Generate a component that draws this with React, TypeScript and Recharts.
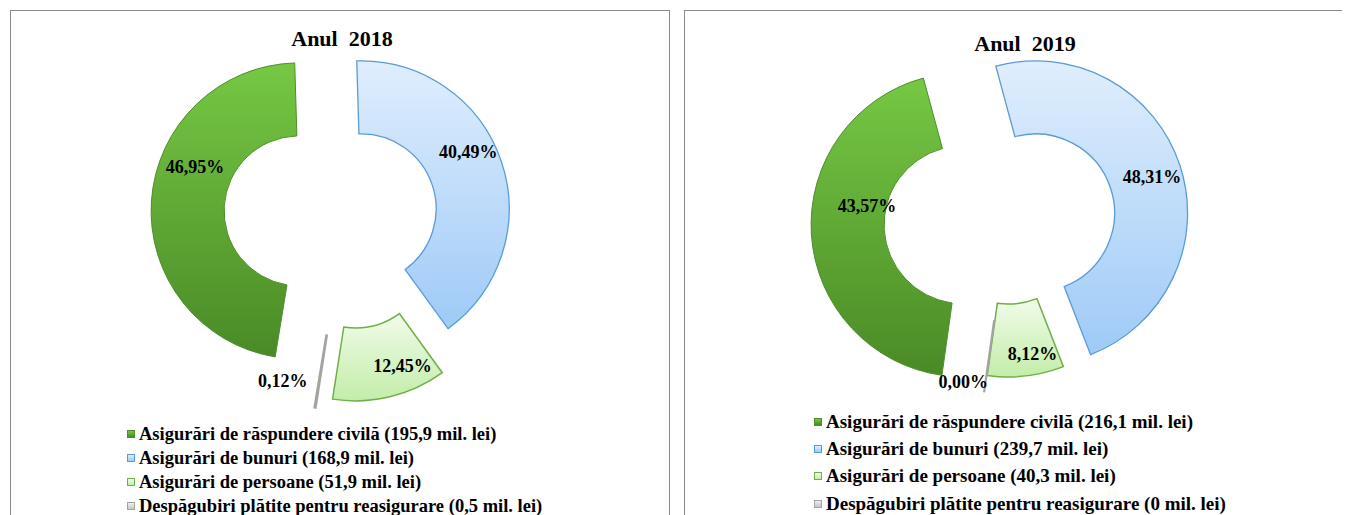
import { Cell, Legend, Pie, PieChart } from "recharts";

const categories = [
  "Asigurări de răspundere civilă",
  "Asigurări de bunuri",
  "Asigurări de persoane",
  "Despăgubiri plătite pentru reasigurare",
];

// mil. lei
const amounts2018 = [195.9, 168.9, 51.9, 0.5];
const amounts2019 = [216.1, 239.7, 40.3, 0];

// shares shown on the slices, %
const shares2018 = [46.95, 40.49, 12.45, 0.12];
const shares2019 = [43.57, 48.31, 8.12, 0];

const gradients = [
  ["#76c844", "#4a8a26"],
  ["#e0eefd", "#9ecaf7"],
  ["#f1fbea", "#c3eda8"],
  ["#eeeeee", "#c6c6c6"],
];
const strokes = ["#4e8e2a", "#5b9bd5", "#70ae47", "#a3a3a3"];
const strokeWidths = [1, 1.3, 1.5, 2.2];

const serif = '"Liberation Serif", "Times New Roman", serif';

const panels = [
  {
    id: "y2018",
    title: "Anul  2018",
    amounts: amounts2018,
    shares: shares2018,
    left: 2,
    width: 660,
    titleTop: 16.6,
    titleShift: 4,
    cx: 335,
    cy: 203,
    inner: 75,
    outer: 148,
    startClock: 189.3,
    explode: [47, 16, 40, 48],
    labelAt: [
      [19, 113],
      [-9, 121],
      [-9, 123],
      [5.4, 124],
    ],
    legendLeft: 116,
    legendTop: 411,
    legendRow: 24,
    legendFont: 18.5,
  },
  {
    id: "y2019",
    title: "Anul  2019",
    amounts: amounts2019,
    shares: shares2019,
    left: 676,
    width: 659,
    titleTop: 21.6,
    titleShift: 23,
    cx: 323,
    cy: 211,
    inner: 79,
    outer: 152,
    startClock: 188,
    explode: [45, 29, 3, 20],
    labelAt: [
      [14.6, 98],
      [1, 122],
      [-4, 131],
      [-1, 141],
    ],
    legendLeft: 129,
    legendTop: 397,
    legendRow: 27.3,
    legendFont: 19,
  },
];

type PanelCfg = (typeof panels)[number];

const toRad = (d: number) => (d * Math.PI) / 180;
const comma = (v: number) => String(v).replace(".", ",");

const midClocks = (p: PanelCfg) => {
  const total = p.shares.reduce((a, b) => a + b, 0);
  let acc = 0;
  return p.shares.map((v) => {
    const m = p.startClock + ((acc + v / 2) / total) * 360;
    acc += v;
    return m;
  });
};

const makeLabel = (p: PanelCfg, idx: number) => (props: any) => {
  if (props.index !== idx) return null;
  const { cx, cy, midAngle, innerRadius, outerRadius, value } = props;
  const [shift, r] = p.labelAt[idx];
  const clock = 90 - midAngle + shift;
  const x = cx + r * Math.sin(toRad(clock));
  const y = cy - r * Math.cos(toRad(clock));
  const small = idx === 3;
  const a = toRad(90 - midAngle);
  return (
    <g>
      {value === 0 && (
        <line
          x1={cx + innerRadius * Math.sin(a)}
          y1={cy - innerRadius * Math.cos(a)}
          x2={cx + outerRadius * Math.sin(a)}
          y2={cy - outerRadius * Math.cos(a)}
          stroke={strokes[3]}
          strokeWidth={2.2}
        />
      )}
      <text
        x={x}
        y={y}
        textAnchor={small ? "end" : "middle"}
        dominantBaseline="central"
        fontFamily={serif}
        fontWeight="bold"
        fontSize={18}
        fill="#000"
      >
        {Number(value).toFixed(2).replace(".", ",")}%
      </text>
    </g>
  );
};

const LegendList = ({ payload, p }: { payload?: any[]; p: PanelCfg }) => (
  <div style={{ fontFamily: serif, fontWeight: "bold", fontSize: p.legendFont, color: "#000" }}>
    {(payload ?? []).slice(0, 4).map((_, i) => (
      <div
        key={i}
        style={{ display: "flex", alignItems: "center", height: p.legendRow, whiteSpace: "nowrap" }}
      >
        <span
          style={{
            display: "inline-block",
            width: 6,
            height: 6,
            border: `1px solid ${strokes[i]}`,
            background: `linear-gradient(${gradients[i][0]}, ${gradients[i][1]})`,
            marginRight: 4,
          }}
        />
        <span>
          {categories[i]} ({comma(p.amounts[i])} mil. lei)
        </span>
      </div>
    ))}
  </div>
);

const Donut = ({ p }: { p: PanelCfg }) => {
  const rows = categories.map((name, i) => ({ name, share: p.shares[i] }));
  const mids = midClocks(p);
  return (
    <PieChart width={658} height={520} margin={{ top: 0, right: 0, bottom: 0, left: 0 }}>
      <defs>
        {gradients.map(([top, bottom], i) => (
          <linearGradient key={i} id={`${p.id}-g${i}`} x1="0" y1="0" x2="0" y2="1">
            <stop offset="0%" stopColor={top} />
            <stop offset="100%" stopColor={bottom} />
          </linearGradient>
        ))}
      </defs>
      {rows.map((_, i) => (
        <Pie
          key={i}
          data={rows}
          dataKey="share"
          nameKey="name"
          cx={p.cx + p.explode[i] * Math.sin(toRad(mids[i]))}
          cy={p.cy - p.explode[i] * Math.cos(toRad(mids[i]))}
          innerRadius={p.inner}
          outerRadius={p.outer}
          startAngle={90 - p.startClock}
          endAngle={90 - p.startClock - 360}
          isAnimationActive={false}
          labelLine={false}
          label={makeLabel(p, i)}
          legendType={i === 0 ? "square" : "none"}
        >
          {rows.map((_, j) => (
            <Cell
              key={j}
              fill={j === i ? `url(#${p.id}-g${j})` : "none"}
              stroke={j === i ? strokes[j] : "none"}
              strokeWidth={strokeWidths[j]}
            />
          ))}
        </Pie>
      ))}
      <Legend
        layout="vertical"
        align="center"
        verticalAlign="middle"
        wrapperStyle={{ left: p.legendLeft, top: p.legendTop, width: "auto" }}
        content={(props: any) => <LegendList payload={props.payload} p={p} />}
      />
    </PieChart>
  );
};

const App = () => {
  return (
    <div style={{ position: "relative", width: 1334, height: 507 }}>
      <style>{"html,body{overflow:hidden}"}</style>
      {panels.map((p) => (
        <div
          key={p.id}
          style={{
            position: "absolute",
            left: p.left,
            top: 2,
            width: p.width,
            height: 540,
            border: "1px solid #8a8a8a",
            boxSizing: "border-box",
            background: "#fff",
          }}
        >
          <div
            style={{
              position: "absolute",
              top: p.titleTop,
              left: p.titleShift,
              right: 0,
              textAlign: "center",
              fontFamily: serif,
              fontWeight: "bold",
              fontSize: 22,
              lineHeight: "22px",
              whiteSpace: "pre",
            }}
          >
            {p.title}
          </div>
          <Donut p={p} />
        </div>
      ))}
    </div>
  );
};

export default App;
